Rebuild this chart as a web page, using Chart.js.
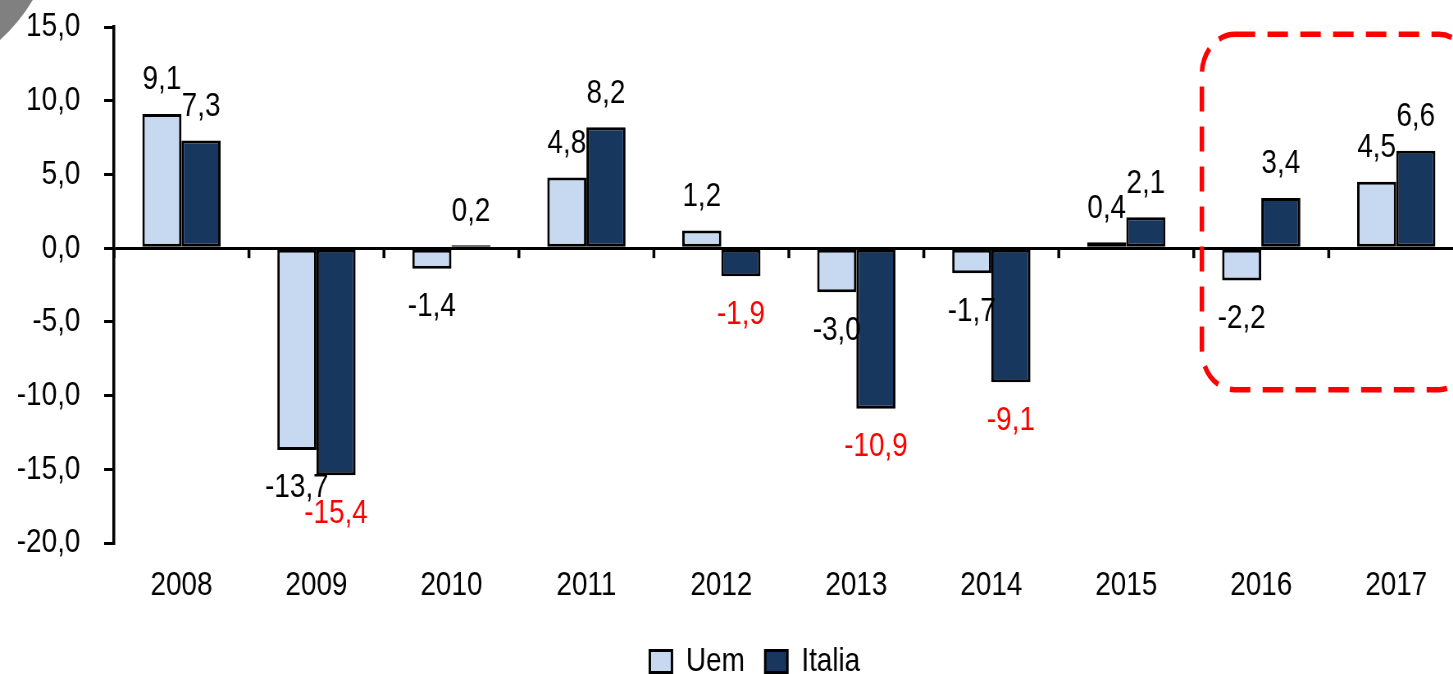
<!DOCTYPE html>
<html>
<head>
<meta charset="utf-8">
<script src="https://cdn.jsdelivr.net/npm/chart.js@4/dist/chart.umd.min.js"></script>
<style>
  html, body { margin: 0; padding: 0; background: #fff; overflow: hidden; }
  #wrap { width: 1453px; height: 674px; overflow: hidden; }
  /* the source chart uses a narrow face; squeeze the whole canvas horizontally */
  #chart { transform: scaleX(0.82); transform-origin: 0 0; display: block; }
</style>
</head>
<body>
<div id="wrap"><canvas id="chart"></canvas></div>
<script>
// data
const years = ['2008', '2009', '2010', '2011', '2012', '2013', '2014', '2015', '2016', '2017'];
const uem = [9.1, -13.7, -1.4, 4.8, 1.2, -3.0, -1.7, 0.4, -2.2, 4.5];
const italia = [7.3, -15.4, 0.2, 8.2, -1.9, -10.9, -9.1, 2.1, 3.4, 6.6];
const yMin = -20, yMax = 15, yStep = 5;

// highlighted span (2016-2017) and its value range
const boxFrom = 7.56, boxTo = 9.56, boxTop = 14.5, boxBottom = -9.6;

const sx = 0.82;                       // horizontal squeeze, matches the CSS
const W = Math.round(1465 / sx), H = 674;
const canvas = document.getElementById('chart');
canvas.width = W;
canvas.height = H;

const fontFamily = "'Liberation Sans', Arial, sans-serif";
const fontSize = 34;
Chart.defaults.font.family = fontFamily;
Chart.defaults.font.size = fontSize;
Chart.defaults.color = '#000';

const fmt = v => v.toFixed(1).replace('.', ',');

// value labels above / below each bar
const valueLabels = {
  id: 'valueLabels',
  afterDatasetsDraw(chart) {
    const ctx = chart.ctx;
    ctx.save();
    ctx.font = fontSize + 'px ' + fontFamily;
    ctx.textAlign = 'center';
    ctx.textBaseline = 'middle';
    chart.data.datasets.forEach((ds, di) => {
      chart.getDatasetMeta(di).data.forEach((bar, i) => {
        const v = ds.data[i];
        const neg = v < 0;
        ctx.fillStyle = (neg && ds.label === 'Italia') ? '#ff0000' : '#000';
        ctx.fillText(fmt(v), bar.x, neg ? bar.y + 38 : bar.y - 34);
      });
    });
    ctx.restore();
  }
};

// tick marks on the zero line between categories, dashed box, corner curl
const extras = {
  id: 'extras',
  afterDraw(chart) {
    const ctx = chart.ctx;
    const x = chart.scales.x, y = chart.scales.y;
    const y0 = y.getPixelForValue(0);
    ctx.save();
    ctx.strokeStyle = '#000';
    ctx.lineWidth = 3.5;
    for (let i = 0; i <= years.length; i++) {
      const px = x.getPixelForValue(i - 0.5);
      ctx.beginPath();
      ctx.moveTo(px, y0);
      ctx.lineTo(px, y0 + 10);
      ctx.stroke();
    }

    const l = x.getPixelForValue(boxFrom), r = x.getPixelForValue(boxTo);
    const t = y.getPixelForValue(boxTop), b = y.getPixelForValue(boxBottom);
    ctx.strokeStyle = '#ff0000';
    ctx.lineWidth = 5.5;
    ctx.setLineDash([25, 15]);
    ctx.beginPath();
    ctx.roundRect(l, t, r - l, b - t, 40);
    ctx.stroke();
    ctx.setLineDash([]);

    ctx.fillStyle = '#808080';
    ctx.beginPath();
    ctx.moveTo(0, 0);
    ctx.lineTo(40, 0);
    ctx.quadraticCurveTo(24, 22, 0, 40);
    ctx.closePath();
    ctx.fill();
    ctx.restore();
  }
};

// nudge the legend to where it sits in the picture
const legendPlace = {
  id: 'legendPlace',
  afterLayout(chart) {
    const lg = chart.legend;
    const dx = 755 / sx - (lg.left + lg.right) / 2;
    const dy = 654 - (lg.top + lg.bottom) / 2;
    lg.left += dx; lg.right += dx;
    lg.top += dy; lg.bottom += dy;
  }
};

new Chart(canvas, {
  type: 'bar',
  data: {
    labels: years,
    datasets: [
      {
        label: 'Uem',
        data: uem,
        backgroundColor: '#c6d9f1',
        borderColor: '#000',
        borderWidth: 3,
        borderSkipped: false,
        categoryPercentage: 0.58,
        barPercentage: 1.0
      },
      {
        label: 'Italia',
        data: italia,
        backgroundColor: '#17375e',
        borderColor: '#000',
        borderWidth: 3,
        borderSkipped: false,
        categoryPercentage: 0.58,
        barPercentage: 1.0
      }
    ]
  },
  options: {
    responsive: false,
    animation: false,
    events: [],
    layout: { padding: { top: 27, right: W - Math.round(1464 / sx), left: 0, bottom: 0 } },
    plugins: {
      tooltip: { enabled: false },
      legend: {
        position: 'bottom',
        labels: {
          boxWidth: 27,
          boxHeight: 22,
          padding: 25,
          color: '#000',
          font: { size: fontSize }
        }
      }
    },
    scales: {
      x: {
        grid: { display: false, drawTicks: false },
        border: { display: false },
        ticks: { padding: 22, font: { size: fontSize }, color: '#000', maxRotation: 0 },
        afterFit(scale) {
          scale.height = H - 543 - scale.chart.legend.height;
          scale.paddingLeft = 0; scale.paddingRight = 0;
        }
      },
      y: {
        z: 1,
        min: yMin,
        max: yMax,
        ticks: {
          stepSize: yStep,
          padding: 29,
          font: { size: fontSize },
          color: '#000',
          callback: v => fmt(v)
        },
        grid: {
          color: c => (c.tick && c.tick.value === 0) ? '#000' : 'rgba(0,0,0,0)',
          lineWidth: 3,
          tickLength: 12,
          tickColor: '#000',
          tickWidth: 3
        },
        border: { display: true, color: '#000', width: 3.5 },
        afterFit(scale) {
          scale.width = Math.round(114 / sx);
          scale.paddingTop = 0; scale.paddingBottom = 0;
        }
      }
    }
  },
  plugins: [valueLabels, extras, legendPlace]
});
</script>
</body>
</html>
